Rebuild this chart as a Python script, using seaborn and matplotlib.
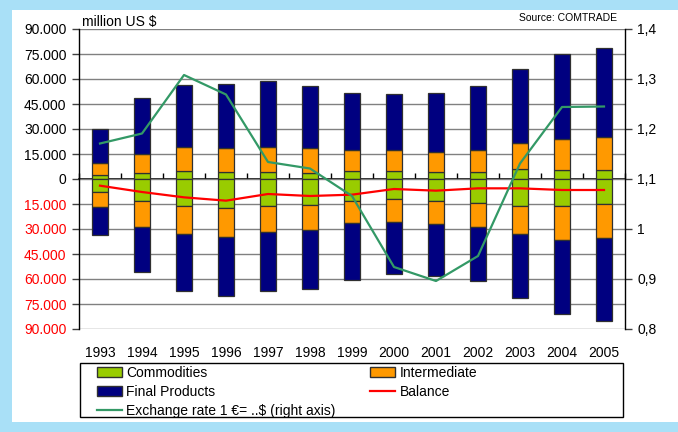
import numpy as np
import matplotlib
matplotlib.use("Agg")
import matplotlib.pyplot as plt
import seaborn as sns
from matplotlib.patches import Rectangle, Patch
from matplotlib.lines import Line2D

# ---------------- data (million US $) ----------------
years = [str(y) for y in range(1993, 2006)]
exp_commodities = [2400, 3800, 4600, 4000, 4200, 3800, 4600, 4600, 4000, 4200, 6000, 5200, 5400]
exp_intermediate = [7400, 11200, 14400, 14600, 14800, 14800, 12600, 12600, 12400, 13000, 15400, 18800, 20000]
exp_final = [20000, 33800, 37600, 38400, 39800, 37200, 34200, 33600, 35000, 38600, 44600, 51000, 53400]
imp_commodities = [7800, 13400, 16000, 17400, 16400, 15400, 13200, 12200, 13200, 14400, 16400, 16400, 14800]
imp_intermediate = [8800, 15400, 17200, 17400, 15400, 15200, 13400, 13400, 14000, 14600, 16800, 20200, 20600]
imp_final = [17200, 27200, 34200, 35200, 35600, 35200, 34200, 31200, 30800, 32000, 38400, 44600, 49800]
balance = [-4000, -7800, -11000, -13000, -9000, -10200, -9400, -6000, -7000, -5600, -5600, -6600, -6600]
exchange_rate = [1.171, 1.191, 1.308, 1.269, 1.134, 1.121, 1.066, 0.924, 0.896, 0.946, 1.131, 1.244, 1.245]

left_ticks = list(range(-90000, 90001, 15000))
right_ticks = [0.8, 0.9, 1.0, 1.1, 1.2, 1.3, 1.4]
right_labels = ["0,8", "0,9", "1", "1,1", "1,2", "1,3", "1,4"]

C_COMM = "#99cc00"
C_INT = "#ff9900"
C_FIN = "#000080"
C_BAL = "#ff0000"
C_EX = "#339966"
EDGE = "#303030"

plt.rcParams["font.family"] = ["Liberation Sans", "DejaVu Sans"]

W, H = 678, 432
fig = plt.figure(figsize=(W / 100, H / 100), dpi=100, facecolor="#a9e0f7")
fig.patches.append(Rectangle((12 / W, 1 - 422 / H), 1 - 12 / W, (422 - 10) / H,
                             transform=fig.transFigure, facecolor="white",
                             edgecolor="none", zorder=-10))

ax = fig.add_axes([79 / W, 1 - 329 / H, 546 / W, 300 / H])
ax.set_facecolor("white")

ec = np.array(exp_commodities)
ei = np.array(exp_intermediate)
ef = np.array(exp_final)
ic = np.array(imp_commodities)
ii = np.array(imp_intermediate)
imf = np.array(imp_final)

bar_kw = dict(ax=ax, width=0.4, errorbar=None, saturation=1, edgecolor=EDGE, linewidth=0.9)
# exports (positive)
sns.barplot(x=years, y=ec, bottom=0, color=C_COMM, **bar_kw)
sns.barplot(x=years, y=ei, bottom=ec, color=C_INT, **bar_kw)
sns.barplot(x=years, y=ef, bottom=ec + ei, color=C_FIN, **bar_kw)
# imports (negative)
sns.barplot(x=years, y=-ic, bottom=0, color=C_COMM, **bar_kw)
sns.barplot(x=years, y=-ii, bottom=-ic, color=C_INT, **bar_kw)
sns.barplot(x=years, y=-imf, bottom=-(ic + ii), color=C_FIN, **bar_kw)

sns.lineplot(x=np.arange(len(years)), y=balance, ax=ax, color=C_BAL, lw=1.6)

ax.set_xlim(-0.5, len(years) - 0.5)
ax.set_ylim(-90000, 90000)
ax.set_yticks(left_ticks)
ax.set_yticklabels(["0" if v == 0 else f"{abs(v) / 1000:.3f}" for v in left_ticks])
for v, lab in zip(left_ticks, ax.get_yticklabels()):
    lab.set_color("#ff0000" if v < 0 else "black")
ax.set_xticks(range(len(years)))
ax.set_xticklabels(years)
ax.set_xlabel("")
ax.set_ylabel("")
ax.yaxis.grid(True, color="#808080", lw=1)
ax.xaxis.grid(False)
ax.set_axisbelow(True)
ax.tick_params(axis="y", direction="out", length=5, width=1, color="#404040", labelsize=10, pad=4)
ax.tick_params(axis="x", length=0, labelsize=10, pad=12)
for s in ["top", "bottom", "right"]:
    ax.spines[s].set_visible(False)
ax.spines["left"].set_color("black")
ax.spines["left"].set_linewidth(1)

# zero axis with category-separating tick marks (pointing up)
sec = ax.secondary_xaxis(0.5)
sec.set_xticks(np.arange(-0.5, len(years), 1.0))
sec.set_xticklabels([])
sec.xaxis.set_ticks_position("bottom")
sec.tick_params(direction="in", length=4, width=1, color="black")
for s in sec.spines.values():
    s.set_color("black")
    s.set_linewidth(1.2)

# right axis: exchange rate
ax2 = ax.twinx()
sns.lineplot(x=np.arange(len(years)), y=exchange_rate, ax=ax2, color=C_EX, lw=1.6)
ax2.set_ylim(0.8, 1.4)
ax2.set_yticks(right_ticks)
ax2.set_yticklabels(right_labels)
ax2.set_ylabel("")
ax2.tick_params(axis="y", direction="out", length=5, width=1, color="#404040", labelsize=10, pad=4)
for s in ["top", "bottom", "left"]:
    ax2.spines[s].set_visible(False)
ax2.spines["right"].set_color("black")
ax2.spines["right"].set_linewidth(1)

fig.text(82 / W, 1 - 26 / H, "million US $", ha="left", va="baseline", fontsize=10)
fig.text(617 / W, 1 - 18 / H, "Source: COMTRADE", ha="right", va="center", fontsize=7.5)

# legend frame
fig.patches.append(Rectangle((80 / W, 1 - 417 / H), 543 / W, 54 / H, transform=fig.transFigure,
                             fill=False, edgecolor="black", lw=1, zorder=5))
handles = [
    Patch(facecolor=C_COMM, edgecolor=EDGE, label="Commodities"),
    Patch(facecolor=C_FIN, edgecolor=EDGE, label="Final Products"),
    Line2D([], [], color=C_EX, lw=1.6, label="Exchange rate 1 €= ..$ (right axis)"),
    Patch(facecolor=C_INT, edgecolor=EDGE, label="Intermediate"),
    Line2D([], [], color=C_BAL, lw=1.6, label="Balance"),
]
fig.legend(handles=handles, ncol=2, loc="upper left", bbox_to_anchor=(97 / W, 1 - 366 / H),
           frameon=False, fontsize=10, handlelength=1.8, handleheight=0.7, handletextpad=0.3,
           labelspacing=0.35, columnspacing=2.5, borderpad=0, borderaxespad=0)

fig.savefig("out.png", dpi=100, facecolor=fig.get_facecolor())
